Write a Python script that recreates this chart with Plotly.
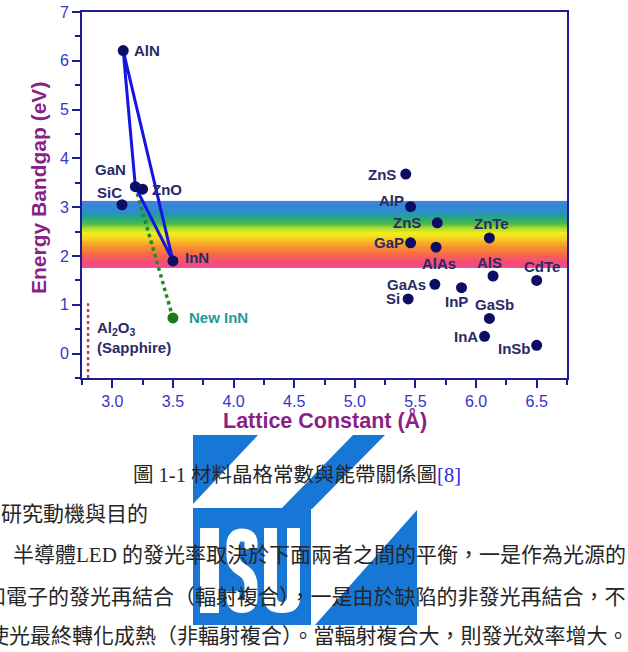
import numpy as np
import plotly.graph_objects as go

# ---------------- data ----------------
materials = ["AlN", "GaN", "ZnO", "SiC", "InN", "ZnS", "AlP", "ZnS", "GaP", "AlAs",
             "ZnTe", "AlS", "CdTe", "GaAs", "InP", "Si", "GaSb", "InA", "InSb"]
lattice = [3.09, 3.19, 3.25, 3.08, 3.50, 5.42, 5.46, 5.68, 5.46, 5.67,
           6.11, 6.14, 6.50, 5.66, 5.88, 5.44, 6.11, 6.07, 6.50]
bandgap = [6.21, 3.42, 3.37, 3.05, 1.90, 3.68, 3.01, 2.68, 2.27, 2.18,
           2.37, 1.59, 1.50, 1.42, 1.35, 1.12, 0.72, 0.355, 0.17]

nitride_names = ["AlN", "GaN", "InN", "AlN"]
new_inn_lattice = [3.50]
new_inn_gap = [0.73]
new_inn_label = "New InN"

sapphire_lattice = [2.80, 2.80]
sapphire_gap = [-0.5, 1.03]

visible_band = [1.76, 3.12]   # eV range of the rainbow band

x_ticks = [3.0, 3.5, 4.0, 4.5, 5.0, 5.5, 6.0, 6.5]
y_ticks = [0, 1, 2, 3, 4, 5, 6, 7]

caption = "圖 1-1 材料晶格常數與能帶關係圖"
caption_ref = "[8]"
heading = "研究動機與目的"
body_lines = [
    "半導體LED 的發光率取決於下面兩者之間的平衡，一是作為光源的",
    "和電子的發光再結合（輻射複合），一是由於缺陷的非發光再結合，不",
    "使光最終轉化成熱（非輻射複合）。當輻射複合大，則發光效率增大。故",
]

# ---------------- layout helpers (pixel -> paper) ----------------
W, H = 628, 652
PL, PR, PT, PB = 82, 567, 12, 378
def fx(px):
    return (px - PL) / (PR - PL)
def fy(py):
    return (PB - py) / (PB - PT)

NAVY = "#0d0d66"
LABEL = "#2a2a66"
AXIS = "#1c1c8c"
TICKC = "#3535c8"
PURPLE = "#8a1f86"
LOGO = "#1677d6"

fig = go.Figure()

# rainbow band
yy = np.linspace(visible_band[0], visible_band[1], 81)
fig.add_trace(go.Heatmap(
    x=[2.75, 6.75], y=yy, z=[[v, v] for v in yy],
    zmin=visible_band[0], zmax=visible_band[1], showscale=False, hoverinfo="skip",
    colorscale=[[0, "#f2468e"], [0.1, "#f45070"], [0.2, "#f76a48"], [0.33, "#f8982c"],
                [0.45, "#f8d820"], [0.52, "#eef01a"], [0.6, "#a8d830"], [0.66, "#4cbc48"],
                [0.76, "#22a48a"], [0.86, "#2f8ad0"], [1, "#3f84dc"]],
))

idx = {m: i for i, m in enumerate(materials)}
tri_x = [lattice[idx[m]] for m in nitride_names]
tri_y = [bandgap[idx[m]] for m in nitride_names]

fig.add_trace(go.Scatter(x=sapphire_lattice, y=sapphire_gap, mode="lines",
                         line=dict(color="#e0305a", width=2.5, dash="dot"), hoverinfo="skip"))
fig.add_trace(go.Scatter(x=[lattice[idx["GaN"]], new_inn_lattice[0]],
                         y=[bandgap[idx["GaN"]], new_inn_gap[0]], mode="lines",
                         line=dict(color="#238a23", width=3.5, dash="dot"), hoverinfo="skip"))
fig.add_trace(go.Scatter(x=tri_x, y=tri_y, mode="lines",
                         line=dict(color="#1414e6", width=3), hoverinfo="skip"))
fig.add_trace(go.Scatter(x=lattice, y=bandgap, mode="markers",
                         marker=dict(color=NAVY, size=11), hoverinfo="skip"))
fig.add_trace(go.Scatter(x=new_inn_lattice, y=new_inn_gap, mode="markers",
                         marker=dict(color="#1a7a1a", size=11), hoverinfo="skip"))

# label offsets (px) : dx right, dy down
offsets = [(24, 0), (-25, -17), (24, 0), (-13, -12), (24, -3), (-24, 0), (-19, -6),
           (-30, 0), (-22, 0), (3, 16), (2, -14), (-4, -14), (5, -14), (-28, 0),
           (-5, 14), (-15, 0), (5, -14), (-19, 0), (-22, 3)]
LF = "Liberation Sans, Arial"
ann = []
for m, x, y, (dx, dy) in zip(materials, lattice, bandgap, offsets):
    ann.append(dict(x=x, y=y, xref="x", yref="y", text="<b>%s</b>" % m, showarrow=False,
                    xanchor="center", yanchor="middle",
                    xshift=dx, yshift=-dy, font=dict(family=LF, size=15, color=LABEL)))
ann.append(dict(x=new_inn_lattice[0], y=new_inn_gap[0], xref="x", yref="y",
                text="<b>%s</b>" % new_inn_label, showarrow=False, xshift=46, yshift=0,
                xanchor="center", yanchor="middle",
                font=dict(family=LF, size=15, color="#1e9a96")))
ann.append(dict(x=fx(95), y=fy(328), xref="paper", yref="paper", xanchor="left", yanchor="middle",
                text="<b>Al<sub>2</sub>O<sub>3</sub></b>", showarrow=False,
                font=dict(family=LF, size=15, color=LABEL)))
ann.append(dict(x=fx(95), y=fy(347), xref="paper", yref="paper", xanchor="left", yanchor="middle",
                text="<b>(Sapphire)</b>", showarrow=False,
                font=dict(family=LF, size=15, color=LABEL)))

# axis titles
ann.append(dict(x=fx(38), y=fy(188), xref="paper", yref="paper", textangle=-90,
                xanchor="center", yanchor="middle",
                text="<b>Energy Bandgap (eV)</b>", showarrow=False,
                font=dict(family=LF, size=21, color=PURPLE)))
ann.append(dict(x=fx(325), y=fy(420), xref="paper", yref="paper",
                xanchor="center", yanchor="middle",
                text="<b>Lattice Constant (Å)</b>", showarrow=False,
                font=dict(family=LF, size=21.5, color=PURPLE)))

# ---------------- logo shapes ----------------
def poly(pts):
    return "M " + " L ".join("%.5f,%.5f" % (fx(a), fy(b)) for a, b in pts) + " Z"

def qpath(cmds):
    out = []
    for c in cmds:
        if c[0] == "Z":
            out.append("Z")
        elif c[0] == "Q":
            out.append("Q %.5f,%.5f %.5f,%.5f" % (fx(c[1]), fy(c[2]), fx(c[3]), fy(c[4])))
        else:
            out.append("%s %.5f,%.5f" % (c[0], fx(c[1]), fy(c[2])))
    return " ".join(out)

shapes = []
for pts in [
    [(193, 435), (258, 435), (193, 504)],
    [(353, 435), (385, 435), (312, 509), (281, 509)],
    [(193, 508), (311, 508), (311, 625), (193, 625)],
    [(315, 625), (417, 625), (417, 510)],
]:
    shapes.append(dict(type="path", xref="paper", yref="paper", path=poly(pts),
                       fillcolor=LOGO, line=dict(width=0), layer="above"))
# I
shapes.append(dict(type="path", xref="paper", yref="paper",
                   path=poly([(200, 528), (219, 528), (219, 613), (200, 613)]),
                   fillcolor="white", line=dict(width=0), layer="above"))
# U
u_path = qpath([("M", 264, 528), ("L", 264, 598), ("Q", 264, 613, 282, 613), ("Q", 300, 613, 300, 598),
                ("L", 300, 528), ("L", 287, 528), ("L", 287, 597), ("Q", 287, 602, 282, 602),
                ("Q", 277, 602, 277, 597), ("L", 277, 528), ("Z",)])
shapes.append(dict(type="path", xref="paper", yref="paper", path=u_path,
                   fillcolor="white", line=dict(width=0), layer="above"))
# S
s_path = qpath([("M", 251, 549), ("L", 251, 543), ("Q", 251, 535, 242, 535), ("Q", 233, 535, 233, 545),
                ("L", 233, 556), ("Q", 233, 565, 242, 570), ("Q", 251, 575, 251, 586),
                ("L", 251, 598), ("Q", 251, 606.5, 242, 606.5), ("Q", 233, 606.5, 233, 598),
                ("L", 233, 591)])
shapes.append(dict(type="path", xref="paper", yref="paper", path=s_path,
                   line=dict(color="white", width=13), layer="above"))

# ---------------- document text ----------------
CJK = "Liberation Serif, Noto Sans CJK TC"
TXT = "#262626"
ann.append(dict(x=fx(131), y=fy(475), xref="paper", yref="paper", xanchor="left", yanchor="middle",
                text=caption + "<span style='color:#2a2ae0'>%s</span>" % caption_ref, showarrow=False,
                font=dict(family=CJK, size=20.5, color=TXT)))
ann.append(dict(x=fx(-1), y=fy(514), xref="paper", yref="paper", xanchor="left", yanchor="middle",
                text=heading, showarrow=False, font=dict(family=CJK, size=21, color=TXT)))
for (sx, sy), line in zip([(11, 555), (-17, 597), (-14, 636)], body_lines):
    ann.append(dict(x=fx(sx), y=fy(sy), xref="paper", yref="paper", xanchor="left", yanchor="middle",
                    text=line, showarrow=False, font=dict(family=CJK, size=21, color=TXT)))

fig.update_layout(
    width=W, height=H, margin=dict(l=PL, r=W - PR, t=PT, b=H - PB, autoexpand=False),
    paper_bgcolor="white", plot_bgcolor="white", showlegend=False,
    annotations=ann, shapes=shapes,
    font=dict(family=LF),
)
fig.update_xaxes(range=[2.75, 6.75], tickvals=x_ticks, ticktext=["%.1f" % v for v in x_ticks],
                 ticks="outside", ticklen=8, tickwidth=2, tickcolor=AXIS,
                 showline=True, linecolor=AXIS, linewidth=2, mirror=True, showgrid=False, zeroline=False,
                 tickfont=dict(size=16, color=TICKC), automargin=False,
                 minor=dict(dtick=0.25, tick0=2.75, ticks="outside", ticklen=5, tickwidth=2, tickcolor=AXIS))
fig.update_yaxes(range=[-0.5, 7], tickvals=y_ticks,
                 ticks="outside", ticklen=8, tickwidth=2, tickcolor=AXIS,
                 showline=True, linecolor=AXIS, linewidth=2, mirror=True, showgrid=False, zeroline=False,
                 tickfont=dict(size=16, color=TICKC), automargin=False,
                 minor=dict(dtick=0.5, tick0=-0.5, ticks="outside", ticklen=5, tickwidth=2, tickcolor=AXIS))

fig.write_html("out.html")
